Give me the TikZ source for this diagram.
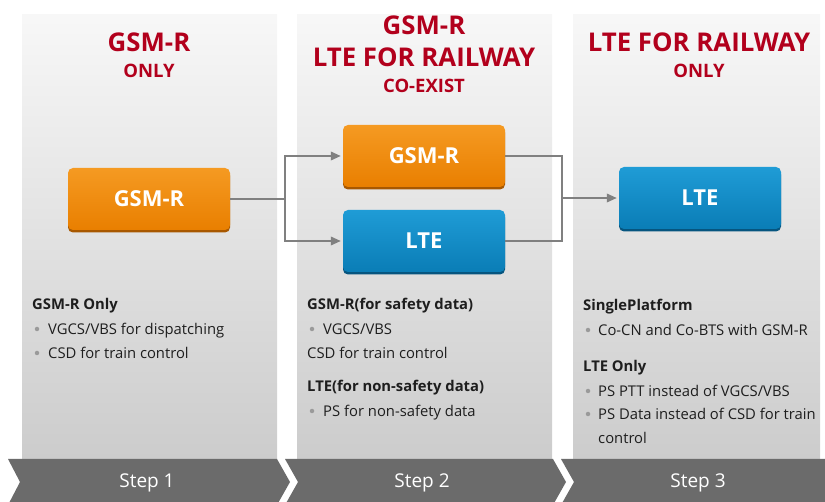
\documentclass[tikz,border=0pt]{standalone}
\usepackage{fontspec}
\setmainfont{Open Sans}
\usetikzlibrary{arrows.meta,shadows}
\definecolor{hred}{HTML}{B2001C}
\definecolor{band}{HTML}{6B6B6B}
\definecolor{conn}{HTML}{808080}
\definecolor{orgtop}{HTML}{F59A22}
\definecolor{orgbot}{HTML}{E97F00}
\definecolor{orgsh}{HTML}{A85800}
\definecolor{blutop}{HTML}{1F9CD6}
\definecolor{blubot}{HTML}{0A7DB6}
\definecolor{blush}{HTML}{06557F}
\definecolor{bodytxt}{HTML}{1E1E1E}
\definecolor{bul}{HTML}{9A9A9A}
\tikzset{
  panel/.style={top color=white!97!black, bottom color=white!80!black, draw=none},
  chev/.style={fill=band, draw=none},
  steptxt/.style={text=white, font=\fontsize{19}{19}\selectfont},
  ttlbig/.style={text=hred, font=\fontsize{25.8}{26}\selectfont\bfseries},
  ttlsmall/.style={text=hred, font=\fontsize{18.5}{19}\selectfont\bfseries},
  netbox/.style={minimum width=162pt, minimum height=62pt, rounded corners=5pt, text=white,
    font=\fontsize{22}{22}\selectfont\bfseries, inner sep=0pt},
  orgbox/.style={netbox, top color=orgtop, bottom color=orgbot,
    drop shadow={shadow xshift=0pt, shadow yshift=-2.5pt, fill=orgsh, opacity=1}},
  blubox/.style={netbox, top color=blutop, bottom color=blubot,
    drop shadow={shadow xshift=0pt, shadow yshift=-2.5pt, fill=blush, opacity=1}},
  link/.style={draw=conn, line width=2pt},
  arr/.style={link, -{Triangle[length=10pt, width=8.5pt]}, shorten >=2pt},
  head/.style={anchor=base west, inner sep=0pt, text=bodytxt, font=\fontsize{14.8}{15}\selectfont\bfseries},
  item/.style={anchor=base west, inner sep=0pt, text=bodytxt, font=\fontsize{14.8}{15}\selectfont},
  dot/.style={circle, fill=bul, inner sep=0pt, minimum size=4.5pt}
}
\begin{document}
\begin{tikzpicture}[x=1pt, y=-1pt]
\useasboundingbox (0,0) rectangle (825,502);
\clip (0,0) rectangle (825,502);
% panels
\fill[panel] (22,15) rectangle (277,459);
\fill[panel] (297,15) rectangle (552,459);
\fill[panel] (573,15) rectangle (820,459);
% chevrons
\fill[chev] (8,459) -- (277,459) -- (290,482) -- (277,505) -- (8,505) -- (20,482) -- cycle;
\fill[chev] (285,459) -- (553,459) -- (566,482) -- (553,505) -- (285,505) -- (298,482) -- cycle;
\fill[chev] (561,459) -- (830,459) -- (830,505) -- (561,505) -- (574,482) -- cycle;
\node[steptxt] (s1) at (147,483) {Step 1};
\node[steptxt] (s2) at (422,483) {Step 2};
\node[steptxt] (s3) at (698,483) {Step 3};
% titles
\node[ttlbig] (t1a) at (149,42) {GSM-R};
\node[ttlsmall] (t1b) at (149,71) {ONLY};
\node[ttlbig] (t2a) at (424,25) {GSM-R};
\node[ttlbig] (t2b) at (424,57) {LTE FOR RAILWAY};
\node[ttlsmall] (t2c) at (424,86) {CO-EXIST};
\node[ttlbig] (t3a) at (699,42) {LTE FOR RAILWAY};
\node[ttlsmall] (t3b) at (699,71) {ONLY};
% boxes
\node[orgbox] (b1) at (149,199) {GSM-R};
\node[orgbox] (b2) at (424,156) {GSM-R};
\node[blubox] (b3) at (424,241) {LTE};
\node[blubox] (b4) at (700,198) {LTE};
% connectors
\coordinate (j1) at (285,199);
\coordinate (j2) at (562,198);
\draw[link] (b1.east) -- (j1);
\draw[arr] (j1) |- (b2.west);
\draw[arr] (j1) |- (b3.west);
\draw[link] (b2.east) -| (j2);
\draw[link] (b3.east) -| (j2);
\draw[arr] (j2) -- (b4.west);
% panel 1 text
\node[head] (p1h) at (32,310) {GSM-R Only};
\node[dot] (p1d1) at (37,329) {};
\node[item] (p1i1) at (48,335) {VGCS/VBS for dispatching};
\node[dot] (p1d2) at (37,353) {};
\node[item] (p1i2) at (48,359) {CSD for train control};
% panel 2 text
\node[head] (p2h) at (307,310) {GSM-R(for safety data)};
\node[dot] (p2d1) at (312,329) {};
\node[item] (p2i1) at (323,335) {VGCS/VBS};
\node[item] (p2i2) at (307,359) {CSD for train control};
\node[head] (p2h2) at (307,392) {LTE(for non-safety data)};
\node[dot] (p2d2) at (312,411) {};
\node[item] (p2i3) at (323,417) {PS for non-safety data};
% panel 3 text
\node[head] (p3h) at (583,311) {SinglePlatform};
\node[dot] (p3d1) at (588,330) {};
\node[item] (p3i1) at (598,336) {Co-CN and Co-BTS with GSM-R};
\node[head] (p3h2) at (583,372) {LTE Only};
\node[dot] (p3d2) at (588,391) {};
\node[item] (p3i2) at (598,397) {PS PTT instead of VGCS/VBS};
\node[dot] (p3d3) at (588,414) {};
\node[item] (p3i3) at (598,420) {PS Data instead of CSD for train};
\node[item] (p3i4) at (598,444) {control};
\end{tikzpicture}
\end{document}
